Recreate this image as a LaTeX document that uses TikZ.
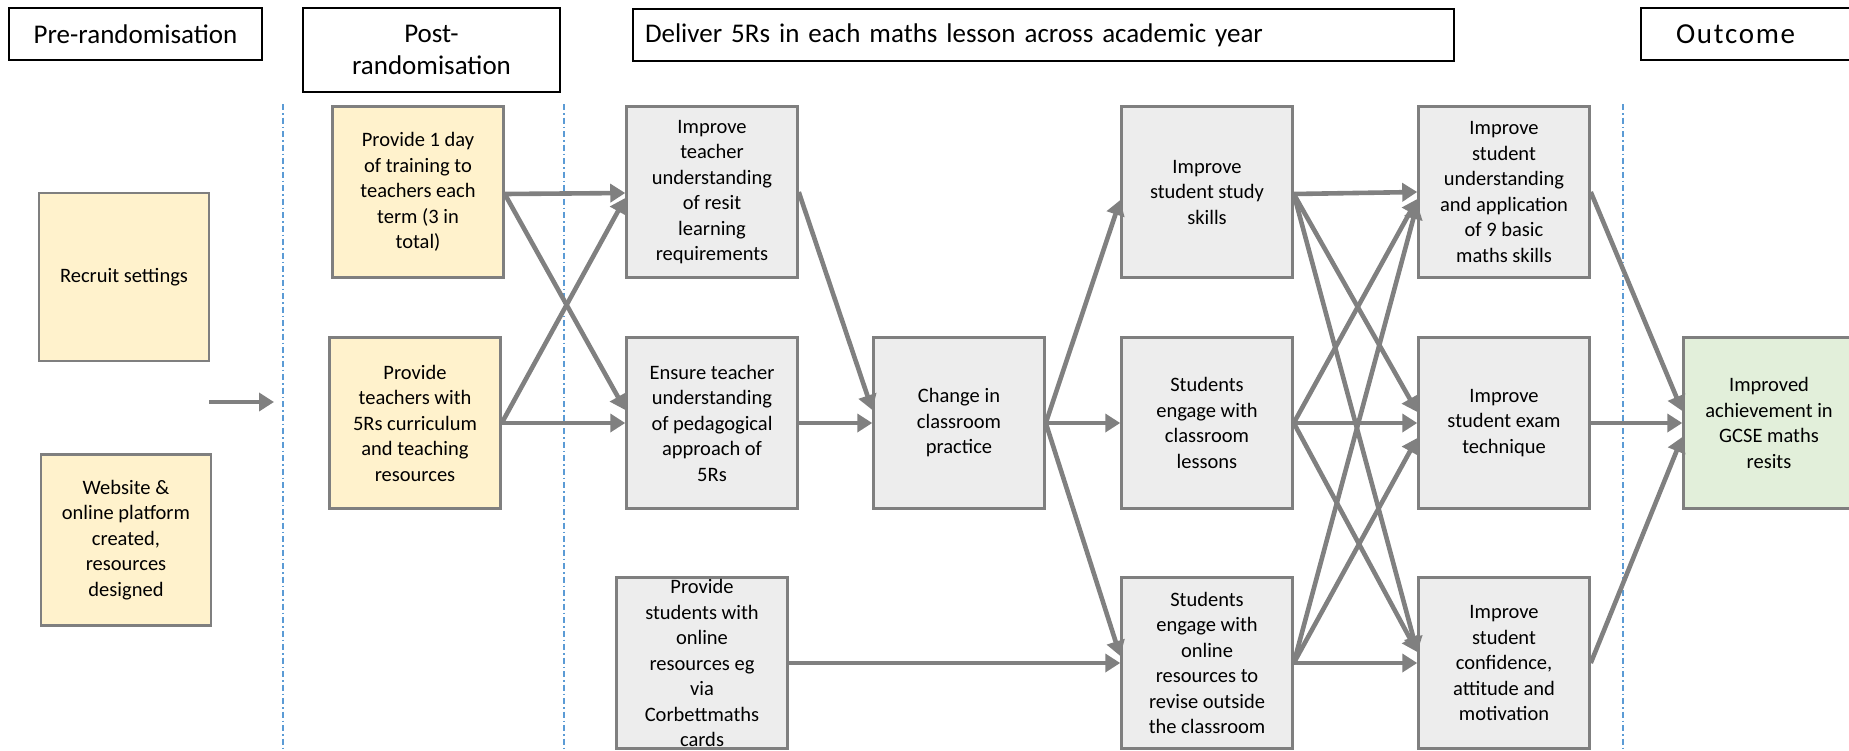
\documentclass[tikz,border=0pt]{standalone}
\usepackage{fontspec}
\setmainfont{Carlito}
\usetikzlibrary{arrows.meta,calc}
\definecolor{ylw}{HTML}{FFF2CC}
\definecolor{gryf}{HTML}{EDEDED}
\definecolor{grnf}{HTML}{E2EFDA}
\definecolor{edgec}{HTML}{7F7F7F}
\definecolor{connc}{HTML}{808080}
\definecolor{sepc}{HTML}{5B9BD5}
\begin{document}
\begin{tikzpicture}[x=1pt,y=-1pt,
  hdr/.style={draw=black, line width=2pt, fill=white, inner sep=0pt, font=\fontsize{27}{32}\selectfont, align=center},
  box/.style={draw=edgec, line width=2.5pt, minimum width=171pt, minimum height=171pt, inner sep=0pt, align=center, font=\fontsize{20.5}{25.5}\selectfont},
  yb/.style={box, fill=ylw},
  gb/.style={box, fill=gryf},
  nb/.style={box, fill=grnf},
  conn/.style={draw=connc, line width=4.6pt, -{Triangle[length=15pt,width=18pt]}},
  sepline/.style={draw=sepc, line width=1.2pt, dash pattern=on 6pt off 3pt on 1.5pt off 3pt}
]
\useasboundingbox (0,0) rectangle (1849,750);
% separators
\coordinate (s1t) at (283,104); \coordinate (s1b) at (283,750);
\coordinate (s2t) at (564,104); \coordinate (s2b) at (564,750);
\coordinate (s3t) at (1623,104); \coordinate (s3b) at (1623,750);
\draw[sepline] (s1t) -- (s1b);
\draw[sepline] (s2t) -- (s2b);
\draw[sepline] (s3t) -- (s3b);
% headers
\node[hdr, minimum width=253pt, minimum height=52pt] (pre) at (135.5,34) {Pre-randomisation};
\node[hdr, minimum width=257pt, minimum height=84pt] (post) at (431.5,50) {Post-\\randomisation};
\node[hdr, minimum width=821pt, minimum height=52pt, inner xsep=12pt, text width=797pt, align=left] (deliver) at (1043.5,35) {Deliver 5Rs in each maths lesson across academic year};
\node[hdr, minimum width=229pt, minimum height=52pt, inner xsep=35pt, text width=159pt, align=left, font=\fontsize{29}{32}\selectfont] (outc) at (1755.5,34) {\addfontfeatures{LetterSpace=6}Outcome};
% boxes
\node[yb, minimum width=170pt, minimum height=168pt] (recruit) at (124,277) {Recruit settings};
\node[yb, minimum width=170pt] (web) at (126,540) {Website \&\\online platform\\created,\\resources\\designed};
\node[yb] (train) at (418,192) {Provide 1 day\\of training to\\teachers each\\term (3 in\\total)};
\node[yb] (prov) at (415,423) {Provide\\teachers with\\5Rs curriculum\\and teaching\\resources};
\node[gb] (itu) at (712,192) {Improve\\teacher\\understanding\\of resit\\learning\\requirements};
\node[gb] (ens) at (712,423) {Ensure teacher\\understanding\\of pedagogical\\approach of\\5Rs};
\node[gb] (pstu) at (702,663) {Provide\\students with\\online\\resources eg\\via\\Corbettmaths\\cards};
\node[gb] (chg) at (959,423) {Change in\\classroom\\practice};
\node[gb] (study) at (1207,192) {Improve\\student study\\skills};
\node[gb] (engc) at (1207,423) {Students\\engage with\\classroom\\lessons};
\node[gb] (engo) at (1207,663) {Students\\engage with\\online\\resources to\\revise outside\\the classroom};
\node[gb] (und) at (1504,192) {Improve\\student\\understanding\\and application\\of 9 basic\\maths skills};
\node[gb] (exam) at (1504,423) {Improve\\student exam\\technique};
\node[gb] (conf) at (1504,663) {Improve\\student\\confidence,\\attitude and\\motivation};
\node[nb] (ach) at (1769,423) {Improved\\achievement in\\GCSE maths\\resits};
% free arrow
\coordinate (arrs) at (209,402);
\coordinate (arre) at (274,402);
\draw[conn] (arrs) -- (arre);
% connectors
\draw[conn] ([yshift=-2pt]train.east) -- ([yshift=-1pt]itu.west);
\draw[conn] ([yshift=-2pt]train.east) -- ([yshift=13pt]ens.west);
\draw[conn] (prov.east) -- ([yshift=-6pt]itu.west);
\draw[conn] (prov.east) -- (ens.west);
\draw[conn] (itu.east) -- ([yshift=13pt]chg.west);
\draw[conn] (ens.east) -- (chg.west);
\draw[conn] (chg.east) -- ([yshift=-8pt]study.west);
\draw[conn] (chg.east) -- (engc.west);
\draw[conn] (chg.east) -- ([yshift=7pt]engo.west);
\draw[conn] (pstu.east) -- (engo.west);
\draw[conn] ([yshift=-2pt]study.east) -- (und.west);
\draw[conn] ([yshift=-2pt]study.east) -- ([yshift=11pt]exam.west);
\draw[conn] ([yshift=-2pt]study.east) -- ([yshift=11pt]conf.west);
\draw[conn] (engc.east) -- ([yshift=-7pt]und.west);
\draw[conn] (engc.east) -- (exam.west);
\draw[conn] (engc.east) -- ([yshift=11pt]conf.west);
\draw[conn] (engo.east) -- ([yshift=-12pt]und.west);
\draw[conn] (engo.east) -- ([yshift=-15pt]exam.west);
\draw[conn] (engo.east) -- (conf.west);
\draw[conn] (und.east) -- ([yshift=12pt]ach.west);
\draw[conn] (exam.east) -- (ach.west);
\draw[conn] (conf.east) -- ([yshift=-14pt]ach.west);
\end{tikzpicture}
\end{document}
